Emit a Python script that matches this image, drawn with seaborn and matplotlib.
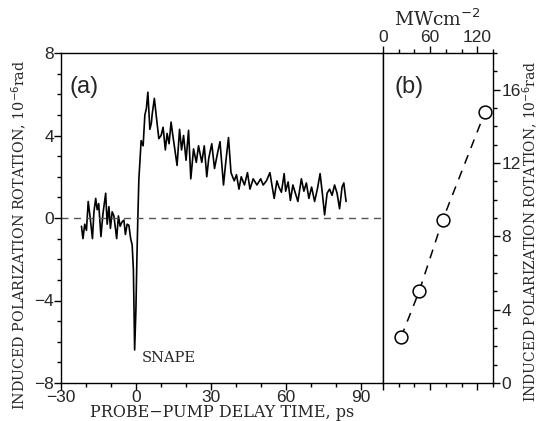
import numpy as np
import matplotlib
matplotlib.use("Agg")
import matplotlib.pyplot as plt
import pandas as pd
import seaborn as sns
from matplotlib.ticker import MultipleLocator

# (a) SNAPE trace
delay = [-21.8, -21.2, -20.5, -19.8, -19.1, -18.3, -17.4, -16.8, -16.1, -15.5,
         -14.9, -14.0, -13.2, -12.1, -11.5, -10.8, -10.2, -9.5, -8.8, -7.7,
         -7.0, -6.3, -5.6, -4.8, -4.2, -3.5, -2.8, -2.1, -1.5, -1.0,
         -0.5, 0.0, 0.4, 0.8, 1.2, 1.6, 2.1, 2.9, 3.6, 4.2,
         4.8, 5.6, 6.2, 6.5, 7.4, 8.3, 9.2, 10.1, 10.9, 11.8,
         12.5, 13.3, 14.1, 14.8, 15.4, 16.5, 17.5, 18.3, 19.1, 20.1,
         21.1, 22.0, 23.1, 24.2, 25.1, 26.4, 27.4, 28.4, 29.2, 30.4,
         31.5, 32.8, 33.7, 35.1, 36.0, 37.1, 38.1, 39.4, 40.3, 41.3,
         42.2, 43.5, 44.7, 45.7, 47.0, 48.5, 50.0, 51.0, 52.3, 53.7,
         54.5, 55.4, 56.5, 57.3, 58.3, 59.4, 60.0, 61.0, 61.9, 62.9,
         63.9, 64.9, 66.3, 67.3, 68.3, 69.3, 70.4, 71.6, 72.7, 73.8,
         74.7, 75.6, 76.6, 77.6, 78.6, 79.6, 80.6, 81.6, 82.6, 83.3, 84.2]
rotation = [-0.4, -1.0, -0.3, -0.6, 0.8, 0.0, -1.0, 0.3, 0.95, 0.4,
            0.7, -0.9, 0.2, 1.2, -0.3, 0.55, -0.5, 0.3, 0.1, -1.0,
            0.1, -0.4, -0.2, -0.1, -0.8, -0.3, -0.35, -1.0, -1.3, -2.5,
            -6.4, -4.5, -2.0, 0.1, 1.9, 2.7, 3.75, 3.5, 5.0, 5.3,
            6.1, 4.3, 4.6, 5.0, 5.8, 4.8, 3.85, 4.0, 4.4, 3.3,
            4.1, 3.6, 4.65, 4.0, 3.5, 2.55, 4.3, 3.3, 4.0, 2.8,
            4.25, 1.9, 3.35, 2.7, 3.5, 2.7, 3.5, 2.0, 2.9, 3.6,
            2.4, 3.2, 3.7, 1.6, 2.7, 3.9, 2.2, 1.8, 2.1, 1.4,
            2.0, 1.6, 2.2, 1.4, 1.9, 1.6, 1.9, 1.6, 1.8, 2.2,
            1.6, 0.95, 1.8, 1.5, 1.25, 2.15, 1.3, 1.75, 0.85, 1.6,
            1.2, 0.8, 1.9, 1.3, 1.7, 0.95, 1.5, 0.8, 1.4, 2.15,
            1.2, 0.15, 1.2, 1.4, 1.1, 1.6, 1.2, 0.45, 1.5, 1.7, 0.8]

# (b) peak rotation vs pump intensity
intensity = [23, 46, 76, 130]
peak = [2.5, 5.0, 8.9, 14.8]

sns.set_theme(style="ticks")
plt.rcParams['font.family'] = ['DejaVu Serif']
plt.rcParams['axes.linewidth'] = 1.0

df_a = pd.DataFrame({'t': delay, 'r': rotation})
df_b = pd.DataFrame({'I': intensity, 'r': peak})

fig = plt.figure(figsize=(5.41, 4.21), dpi=100)
ax = fig.add_axes([61/541, 38/421, 322/541, 330/421])
axb = fig.add_axes([383/541, 38/421, 110/541, 330/421])

ylab = 'INDUCED POLARIZATION ROTATION, 10$^{-6}$rad'
tick_font = {'family': 'Liberation Sans', 'size': 12.5}

# panel a
sns.lineplot(data=df_a, x='t', y='r', ax=ax, color='black', linewidth=1.2)
ax.axhline(0, color='#555555', linestyle=(0, (5, 4)), linewidth=1.0)
ax.set_xlim(-30, 99)
ax.set_ylim(-8, 8)
ax.xaxis.set_minor_locator(MultipleLocator(10))
ax.yaxis.set_minor_locator(MultipleLocator(1))
ax.tick_params(which='major', length=5, width=1, color='black', pad=0)
ax.tick_params(which='minor', length=3, width=1, color='black')
ax.set_xticks([-30, 0, 30, 60, 90])
ax.set_xticklabels(['\u221230', '0', '30', '60', '90'], fontdict=tick_font)
ax.set_yticks([-8, -4, 0, 4, 8])
ax.set_yticklabels(['\u22128', '\u22124', '0', '4', '8'], fontdict=tick_font)
ax.set_xlabel('PROBE\u2212PUMP DELAY TIME, ps', fontsize=11.5, labelpad=-1)
ax.set_ylabel(ylab, fontsize=10.3, labelpad=3, y=0.45)
ax.text(0.025, 0.93, '(a)', transform=ax.transAxes, fontsize=17,
        family='Liberation Sans', va='top')
ax.text(2.5, -7.0, 'SNAPE', fontsize=10.5)
for s in ax.spines.values():
    s.set_visible(True)
    s.set_color('black')

# panel b
sns.lineplot(data=df_b, x='I', y='r', ax=axb, color='black', linewidth=1.1,
             linestyle=(0, (6, 5)))
sns.scatterplot(data=df_b, x='I', y='r', ax=axb, s=85, facecolor='white',
                edgecolor='black', linewidth=1.1, zorder=3)
axb.set_xlim(0, 140)
axb.set_ylim(0, 18)
axb.xaxis.set_minor_locator(MultipleLocator(20))
axb.yaxis.set_minor_locator(MultipleLocator(1))
axb.xaxis.tick_top()
axb.xaxis.set_label_position('top')
axb.yaxis.tick_right()
axb.yaxis.set_label_position('right')
axb.tick_params(axis='x', which='both', bottom=True, top=True,
                labelbottom=False, labeltop=True)
axb.tick_params(axis='y', which='both', left=False, right=True)
axb.tick_params(which='major', length=5, width=1, color='black', pad=1)
axb.tick_params(which='minor', length=3, width=1, color='black')
axb.set_xticks([0, 60, 120])
axb.set_xticklabels(['0', '60', '120'], fontdict=tick_font)
axb.set_yticks([0, 4, 8, 12, 16])
axb.set_yticklabels(['0', '4', '8', '12', '16'], fontdict=tick_font)
axb.set_xlabel('MWcm$^{-2}$', fontsize=13.5, labelpad=3)
axb.set_ylabel(ylab, fontsize=10, labelpad=0, y=0.46)
axb.text(0.1, 0.93, '(b)', transform=axb.transAxes, fontsize=17,
         family='Liberation Sans', va='top')
for s in axb.spines.values():
    s.set_visible(True)
    s.set_color('black')

fig.savefig('out.png', dpi=100)
